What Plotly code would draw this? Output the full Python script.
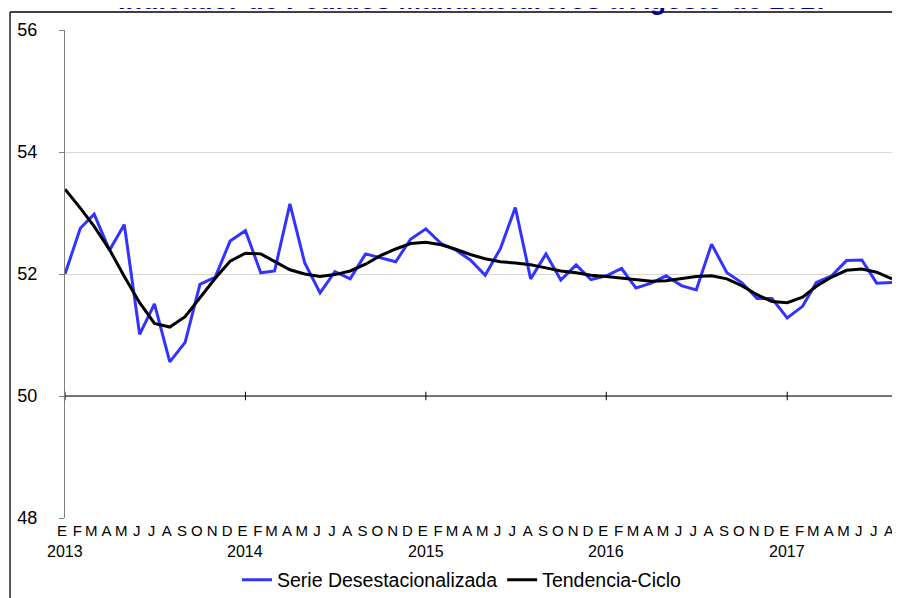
import plotly.graph_objects as go

# ---------------- data ----------------
years = [2013, 2014, 2015, 2016, 2017]
month_letters = ["E", "F", "M", "A", "M", "J", "J", "A", "S", "O", "N", "D"]
n_months = 56  # Jan 2013 .. Aug 2017

serie_desest = [
    52.00, 52.75, 52.98, 52.39, 52.81, 51.01, 51.51, 50.56, 50.88, 51.83, 51.95, 52.54,
    52.71, 52.02, 52.05, 53.15, 52.18, 51.69, 52.04, 51.92, 52.33, 52.26, 52.20, 52.57,
    52.74, 52.50, 52.40, 52.23, 51.98, 52.42, 53.09, 51.92, 52.33, 51.90, 52.15, 51.91,
    51.97, 52.09, 51.77, 51.85, 51.97, 51.81, 51.74, 52.49, 52.02, 51.86, 51.60, 51.60,
    51.28, 51.47, 51.86, 51.97, 52.22, 52.23, 51.85, 51.86,
]
tendencia = [
    53.39, 53.08, 52.78, 52.40, 51.96, 51.53, 51.19, 51.13, 51.30, 51.61, 51.93, 52.21,
    52.34, 52.33, 52.21, 52.07, 52.00, 51.96, 51.99, 52.05, 52.16, 52.30, 52.41, 52.50,
    52.52, 52.48, 52.41, 52.32, 52.25, 52.20, 52.18, 52.15, 52.10, 52.05, 52.02, 51.98,
    51.96, 51.93, 51.90, 51.88, 51.89, 51.92, 51.96, 51.97, 51.92, 51.81, 51.66, 51.55,
    51.53, 51.62, 51.80, 51.95, 52.06, 52.08, 52.03, 51.92,
]

y_ticks = [48, 50, 52, 54, 56]

# ---------------- derived ----------------
dates = []
tick_text = []
for i in range(n_months):
    y = years[0] + i // 12
    m = i % 12
    dates.append(f"{y}-{m + 1:02d}-01")
    tick_text.append(month_letters[m])

FONT = "Liberation Sans, Arial, sans-serif"
W, H = 900, 598
ML, MT = 57, 22
PW, PH = 827.5, 488
MR, MB = W - ML - PW, H - MT - PH


def px_to_paper_x(px):
    return (px - ML) / PW


def px_to_paper_y(py):
    return (MT + PH - py) / PH


fig = go.Figure()
fig.add_trace(go.Scatter(
    x=dates, y=serie_desest, mode="lines", name="Serie Desestacionalizada",
    line=dict(color="#3333FF", width=3),
))
fig.add_trace(go.Scatter(
    x=dates, y=tendencia, mode="lines", name="Tendencia-Ciclo",
    line=dict(color="#000000", width=3),
))

shapes = []
# axis line at 50
shapes.append(dict(type="line", xref="paper", yref="y", x0=0, x1=1, y0=50, y1=50,
                   line=dict(color="#000000", width=1)))
# year ticks on the 50 line
for y in years:
    shapes.append(dict(type="line", xref="x", yref="y", x0=f"{y}-01-01", x1=f"{y}-01-01",
                       y0=49.93, y1=50.07, line=dict(color="#000000", width=1)))
# outer frame (top and left)
shapes.append(dict(type="line", xref="paper", yref="paper",
                   x0=px_to_paper_x(2), x1=px_to_paper_x(W + 5),
                   y0=px_to_paper_y(4), y1=px_to_paper_y(4),
                   line=dict(color="#000000", width=1.3)))
shapes.append(dict(type="line", xref="paper", yref="paper",
                   x0=px_to_paper_x(2), x1=px_to_paper_x(2),
                   y0=px_to_paper_y(4), y1=px_to_paper_y(H + 5),
                   line=dict(color="#000000", width=1.3)))

annotations = [
    dict(text="<b>Indicador de Pedidos Manufactureros a Agosto de 2017</b>",
         xref="paper", yref="paper",
         x=px_to_paper_x(466), xanchor="center",
         y=px_to_paper_y(9), yanchor="bottom",
         showarrow=False,
         font=dict(family=FONT, size=27, color="#000090")),
]
for y in years:
    annotations.append(dict(
        text=str(y), xref="x", yref="paper", x=f"{y}-01-01", xanchor="center",
        y=-33 / PH, yanchor="middle", showarrow=False,
        font=dict(family=FONT, size=16, color="#000000"),
    ))

fig.update_layout(
    width=W, height=H,
    margin=dict(l=ML, r=MR, t=MT, b=MB, autoexpand=False),
    paper_bgcolor="white", plot_bgcolor="white",
    font=dict(family=FONT, color="#000000"),
    shapes=shapes,
    annotations=annotations,
    showlegend=True,
    legend=dict(
        orientation="h", x=0.48, xanchor="center",
        yref="container", y=(H - 572) / H, yanchor="middle",
        font=dict(family=FONT, size=19.5, color="#000000"),
        bgcolor="rgba(0,0,0,0)",
    ),
    xaxis=dict(
        range=[dates[0], dates[-1]],
        tickmode="array", tickvals=dates, ticktext=tick_text,
        tickangle=0,
        tickfont=dict(family=FONT, size=15, color="#000000"),
        ticklabelstandoff=2,
        ticklabelshift=-3,
        ticklabeloverflow="allow",
        showgrid=False, zeroline=False, showline=False, ticks="",
        automargin=False,
    ),
    yaxis=dict(
        range=[48, 56], tickvals=y_ticks,
        showgrid=True, gridcolor="#d9d9d9", gridwidth=1,
        zeroline=False, showline=True, linecolor="#7f7f7f", linewidth=1,
        ticks="outside", ticklen=5, tickcolor="#7f7f7f",
        tickfont=dict(family=FONT, size=18, color="#000000"),
        ticklabelstandoff=18,
        automargin=False,
    ),
)

fig.write_html("out.html")
